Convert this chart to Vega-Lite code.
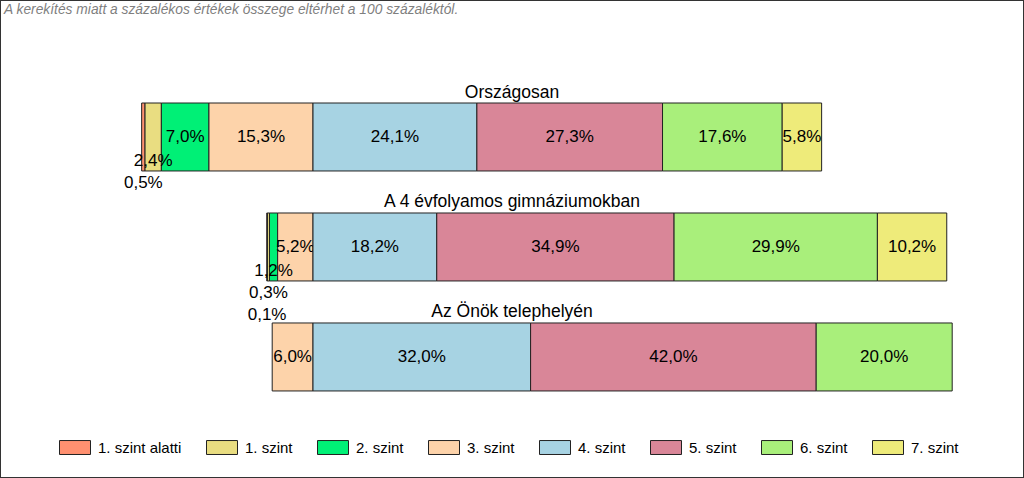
{
  "$schema": "https://vega.github.io/schema/vega-lite/v6.json",
  "width": 1024,
  "height": 478,
  "autosize": {"type": "fit", "contains": "padding"},
  "padding": 0,
  "background": "white",
  "title": {
    "text": "A kerekítés miatt a  százalékos értékek összege eltérhet a 100 százaléktól.",
    "anchor": "start", "frame": "group", "orient": "top", "offset": -27.5, "dx": 4,
    "fontSize": 13.8, "fontStyle": "italic", "fontWeight": "normal", "color": "#7f7f7f",
    "font": "Liberation Sans", "baseline": "alphabetic"
  },
  "config": {
    "view": {"stroke": "#333333", "strokeWidth": 2},
    "locale": {"number": {"decimal": ",", "thousands": " ", "grouping": [3], "currency": ["", "%"]}},
    "text": {"font": "Liberation Sans", "color": "#000000"}
  },
  "data": {
    "values": [
      {"group": "Országosan", "level": "1. szint alatti", "n": 0, "value": 0.5},
      {"group": "Országosan", "level": "1. szint", "n": 1, "value": 2.4},
      {"group": "Országosan", "level": "2. szint", "n": 2, "value": 7.0},
      {"group": "Országosan", "level": "3. szint", "n": 3, "value": 15.3},
      {"group": "Országosan", "level": "4. szint", "n": 4, "value": 24.1},
      {"group": "Országosan", "level": "5. szint", "n": 5, "value": 27.3},
      {"group": "Országosan", "level": "6. szint", "n": 6, "value": 17.6},
      {"group": "Országosan", "level": "7. szint", "n": 7, "value": 5.8},
      {"group": "A 4 évfolyamos gimnáziumokban", "level": "1. szint alatti", "n": 0, "value": 0.1},
      {"group": "A 4 évfolyamos gimnáziumokban", "level": "1. szint", "n": 1, "value": 0.3},
      {"group": "A 4 évfolyamos gimnáziumokban", "level": "2. szint", "n": 2, "value": 1.2},
      {"group": "A 4 évfolyamos gimnáziumokban", "level": "3. szint", "n": 3, "value": 5.2},
      {"group": "A 4 évfolyamos gimnáziumokban", "level": "4. szint", "n": 4, "value": 18.2},
      {"group": "A 4 évfolyamos gimnáziumokban", "level": "5. szint", "n": 5, "value": 34.9},
      {"group": "A 4 évfolyamos gimnáziumokban", "level": "6. szint", "n": 6, "value": 29.9},
      {"group": "A 4 évfolyamos gimnáziumokban", "level": "7. szint", "n": 7, "value": 10.2},
      {"group": "Az Önök telephelyén", "level": "3. szint", "n": 3, "value": 6.0},
      {"group": "Az Önök telephelyén", "level": "4. szint", "n": 4, "value": 32.0},
      {"group": "Az Önök telephelyén", "level": "5. szint", "n": 5, "value": 42.0},
      {"group": "Az Önök telephelyén", "level": "6. szint", "n": 6, "value": 20.0}
    ]
  },
  "resolve": {"scale": {"x": "independent"}},
  "layer": [
    {
      "transform": [
        {"filter": "datum.n <= 3"},
        {"stack": "value", "groupby": ["group"], "sort": [{"field": "n", "order": "descending"}], "as": ["v0", "v1"]}
      ],
      "layer": [
        {
          "mark": {"type": "bar", "stroke": "#222222", "strokeWidth": 1},
          "encoding": {
            "x": {"field": "v0", "type": "quantitative", "axis": null, "scale": {"domain": [-104.56, 46.03], "reverse": true, "nice": false, "zero": false}},
            "x2": {"field": "v1"},
            "y": {"field": "group", "type": "nominal", "axis": null, "sort": null, "scale": {"domain": ["Országosan", "A 4 évfolyamos gimnáziumokban", "Az Önök telephelyén"], "paddingInner": 0.382, "paddingOuter": 0.864, "align": 0.542}},
            "color": {
              "field": "level", "type": "nominal",
              "scale": {
                "domain": ["1. szint alatti", "1. szint", "2. szint", "3. szint", "4. szint", "5. szint", "6. szint", "7. szint"],
                "range": ["#FF9070", "#E9DD81", "#00F076", "#FDD3AA", "#A7D3E3", "#D98698", "#A9EF7B", "#EEEB7A"]
              },
              "legend": {
                "title": null, "orient": "none", "legendX": 59, "legendY": 431.5, "direction": "horizontal", "columns": 8,
                "symbolType": "M-1,-0.45H1V0.45H-1Z", "symbolSize": 961, "symbolStrokeColor": "#444444", "symbolStrokeWidth": 1, "symbolOpacity": 1,
                "labelFontSize": 15, "labelFont": "Liberation Sans", "labelColor": "#000000", "labelOffset": 7,
                "columnPadding": 22, "padding": 0, "labelLimit": 300
              }
            }
          }
        },
        {
          "transform": [
            {"fold": ["v0", "v1"], "as": ["k", "pos"]},
            {"aggregate": [{"op": "mean", "field": "pos", "as": "mid"}], "groupby": ["group", "level", "n", "value"]}
          ],
          "layer": [
            {
              "transform": [{"filter": "datum.value >= 3"}],
              "mark": {"type": "text", "fontSize": 17, "baseline": "middle"},
              "encoding": {
                "x": {"field": "mid", "type": "quantitative", "axis": null},
                "y": {"field": "group", "type": "nominal", "axis": null, "sort": null},
                "text": {"field": "value", "type": "quantitative", "format": "$.1f"}
              }
            },
            {
              "transform": [{"filter": "datum.value < 3 && ((datum.group == 'Országosan' && datum.n == 1) || (datum.group != 'Országosan' && datum.n == 2))"}],
              "mark": {"type": "text", "fontSize": 17, "baseline": "middle", "dy": 24},
              "encoding": {
                "x": {"field": "mid", "type": "quantitative", "axis": null},
                "y": {"field": "group", "type": "nominal", "axis": null, "sort": null},
                "text": {"field": "value", "type": "quantitative", "format": "$.1f"}
              }
            },
            {
              "transform": [{"filter": "datum.value < 3 && ((datum.group == 'Országosan' && datum.n == 0) || (datum.group != 'Országosan' && datum.n == 1))"}],
              "mark": {"type": "text", "fontSize": 17, "baseline": "middle", "dy": 46},
              "encoding": {
                "x": {"field": "mid", "type": "quantitative", "axis": null},
                "y": {"field": "group", "type": "nominal", "axis": null, "sort": null},
                "text": {"field": "value", "type": "quantitative", "format": "$.1f"}
              }
            },
            {
              "transform": [{"filter": "datum.value < 3 && datum.group != 'Országosan' && datum.n == 0"}],
              "mark": {"type": "text", "fontSize": 17, "baseline": "middle", "dy": 68},
              "encoding": {
                "x": {"field": "mid", "type": "quantitative", "axis": null},
                "y": {"field": "group", "type": "nominal", "axis": null, "sort": null},
                "text": {"field": "value", "type": "quantitative", "format": "$.1f"}
              }
            }
          ]
        }
      ]
    },
    {
      "transform": [
        {"filter": "datum.n >= 4"},
        {"stack": "value", "groupby": ["group"], "sort": [{"field": "n", "order": "ascending"}], "as": ["v0", "v1"]}
      ],
      "layer": [
        {
          "mark": {"type": "bar", "stroke": "#222222", "strokeWidth": 1},
          "encoding": {
            "x": {"field": "v0", "type": "quantitative", "axis": null, "scale": {"domain": [-46.03, 104.56], "nice": false, "zero": false}},
            "x2": {"field": "v1"},
            "y": {"field": "group", "type": "nominal", "axis": null, "sort": null},
            "color": {"field": "level", "type": "nominal"}
          }
        },
        {
          "transform": [
            {"fold": ["v0", "v1"], "as": ["k", "pos"]},
            {"aggregate": [{"op": "mean", "field": "pos", "as": "mid"}], "groupby": ["group", "level", "n", "value"]}
          ],
          "mark": {"type": "text", "fontSize": 17, "baseline": "middle"},
          "encoding": {
            "x": {"field": "mid", "type": "quantitative", "axis": null},
            "y": {"field": "group", "type": "nominal", "axis": null, "sort": null},
            "text": {"field": "value", "type": "quantitative", "format": "$.1f"}
          }
        }
      ]
    },
    {
      "transform": [{"aggregate": [{"op": "count", "as": "c"}], "groupby": ["group"]}],
      "mark": {"type": "text", "fontSize": 17.5, "baseline": "alphabetic", "dy": -5.5},
      "encoding": {
        "y": {"field": "group", "type": "nominal", "axis": null, "sort": null, "bandPosition": 0},
        "text": {"field": "group", "type": "nominal"}
      }
    }
  ]
}
